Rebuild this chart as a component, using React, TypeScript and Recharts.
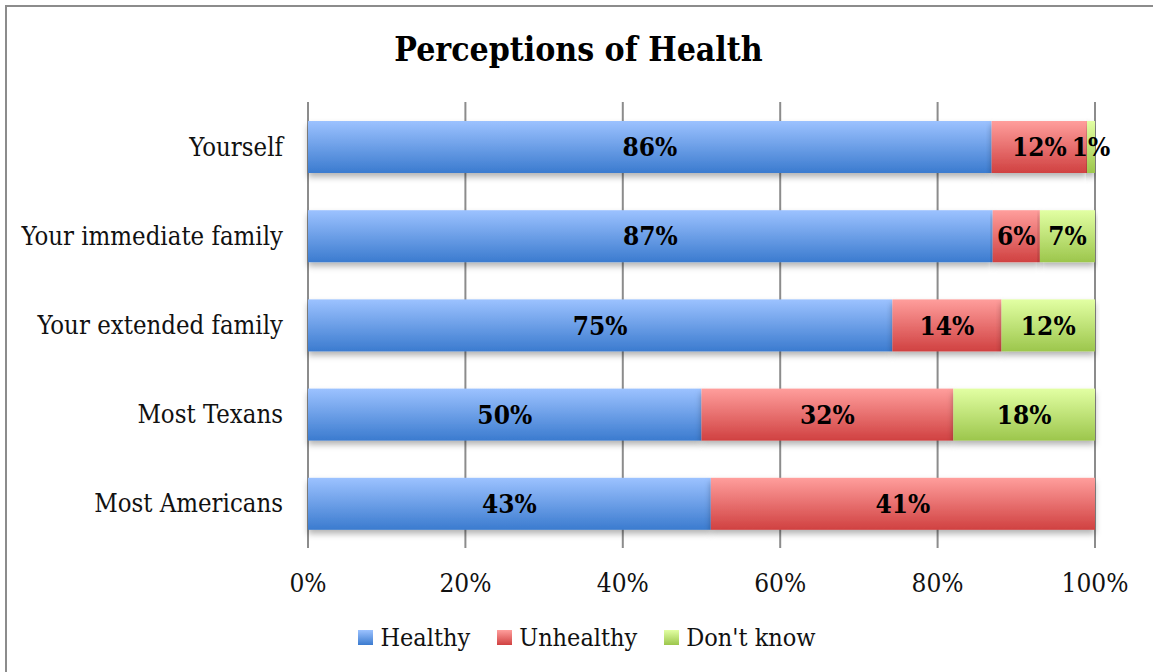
import React from "react"
import { BarChart, Bar, XAxis, YAxis, CartesianGrid, Legend, LabelList } from "recharts"

// Survey groups, top to bottom
const groups = ["Yourself", "Your immediate family", "Your extended family", "Most Texans", "Most Americans"]

// Percent answering each option (Most Americans has no "Don't know" value)
const healthy = [86, 87, 75, 50, 43]
const unhealthy = [12, 6, 14, 32, 41]
const dontKnow = [1, 7, 12, 18, 0]

const xTicks = [0, 0.2, 0.4, 0.6, 0.8, 1]

const serif = "'DejaVu Serif Condensed', 'DejaVu Serif', serif"

const series = [
  { key: "healthy", name: "Healthy", grad: "gBlue", top: "#9cc2ff", bottom: "#3b7bcf" },
  { key: "unhealthy", name: "Unhealthy", grad: "gRed", top: "#ff9e9c", bottom: "#d04141" },
  { key: "dontKnow", name: "Don't know", grad: "gGreen", top: "#e2ffa3", bottom: "#9cc64c" },
]

const rows = groups.map((name, i) => ({
  name,
  healthy: healthy[i],
  unhealthy: unhealthy[i],
  dontKnow: dontKnow[i],
}))

const pct = (v: any) => (v ? `${v}%` : "")

const ShadowRect = (props: any) => {
  const { x, y, width, height, fill } = props
  if (!width || width <= 0) return null
  return <rect x={x} y={y} width={width} height={height} fill={fill} filter="url(#barShadow)" />
}

const LegendContent = () => (
  <div
    style={{
      display: "flex",
      justifyContent: "center",
      alignItems: "center",
      height: 40,
      paddingLeft: 48,
      fontFamily: serif,
      fontSize: 25,
      color: "#111",
    }}
  >
    {series.map((s) => (
      <div key={s.key} style={{ display: "flex", alignItems: "center", marginRight: 27 }}>
        <span
          style={{
            width: 15,
            height: 15,
            marginRight: 7,
            background: `linear-gradient(${s.top}, ${s.bottom})`,
            display: "inline-block",
          }}
        />
        <span>{s.name}</span>
      </div>
    ))}
  </div>
)

export default function App() {
  return (
    <div style={{ position: "absolute", left: 0, top: 0, width: 1153, height: 672, background: "#fff", overflow: "hidden" }}>
      <div
        style={{
          position: "absolute",
          left: 5,
          top: 5,
          width: 1200,
          height: 700,
          borderTop: "2px solid #8c8c8c",
          borderLeft: "2px solid #8c8c8c",
        }}
      />
      <div
        style={{
          position: "absolute",
          top: 30,
          left: 2,
          width: 1153,
          textAlign: "center",
          fontFamily: serif,
          fontWeight: "bold",
          fontSize: 33.5,
          color: "#000",
        }}
      >
        Perceptions of Health
      </div>
      <BarChart
        width={1153}
        height={672}
        layout="vertical"
        data={rows}
        stackOffset="expand"
        barSize={52}
        margin={{ top: 102, right: 58, bottom: 44, left: 0 }}
      >
        <defs>
          {series.map((s) => (
            <linearGradient key={s.grad} id={s.grad} x1="0" y1="0" x2="0" y2="1">
              <stop offset="0%" stopColor={s.top} />
              <stop offset="100%" stopColor={s.bottom} />
            </linearGradient>
          ))}
          <filter id="barShadow" x="-5%" y="-20%" width="110%" height="170%">
            <feDropShadow dx="0" dy="4" stdDeviation="3" floodColor="#000" floodOpacity="0.3" />
          </filter>
        </defs>
        <CartesianGrid horizontal={false} stroke="#8c8c8c" strokeWidth={2} />
        <XAxis
          type="number"
          domain={[0, 1]}
          ticks={xTicks}
          tickFormatter={(v) => `${Math.round(v * 100)}%`}
          axisLine={false}
          tickLine={false}
          tickSize={0}
          tickMargin={26}
          height={40}
          tick={{ fontFamily: serif, fontSize: 26, fill: "#111" }}
        />
        <YAxis
          type="category"
          dataKey="name"
          width={308}
          axisLine={false}
          tickLine={false}
          tickSize={0}
          tickMargin={25}
          tick={{ fontFamily: serif, fontSize: 25.5, fill: "#111" }}
        />
        <Legend verticalAlign="bottom" content={LegendContent} wrapperStyle={{ left: 0, width: 1153, top: 617, bottom: "auto" }} />
        {series.map((s) => (
          <Bar
            key={s.key}
            dataKey={s.key}
            name={s.name}
            stackId="a"
            fill={`url(#${s.grad})`}
            shape={ShadowRect}
            isAnimationActive={false}
          >
            <LabelList
              dataKey={s.key}
              position="center"
              formatter={pct}
              fill="#000"
              style={{ fontFamily: serif, fontWeight: "bold", fontSize: 26 }}
            />
          </Bar>
        ))}
      </BarChart>
    </div>
  )
}
